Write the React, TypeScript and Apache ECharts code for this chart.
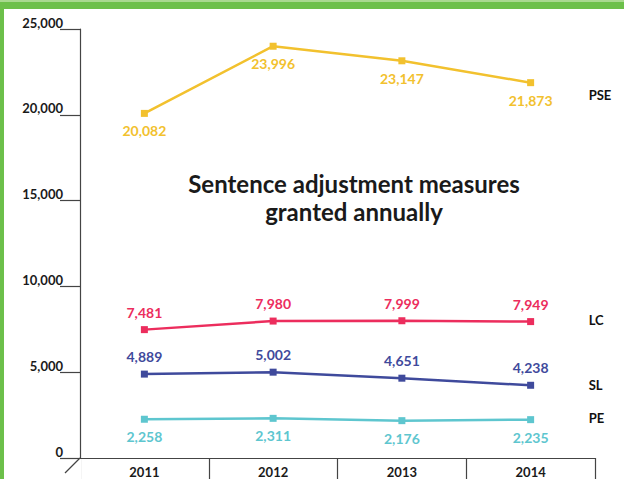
import React, { useEffect, useRef } from "react";
import * as echarts from "echarts";

const categories = ["2011", "2012", "2013", "2014"];
const pse = [20082, 23996, 23147, 21873];
const lc = [7481, 7980, 7999, 7949];
const sl = [4889, 5002, 4651, 4238];
const pe = [2258, 2311, 2176, 2235];
const yTicks = [0, 5000, 10000, 15000, 20000, 25000];
const titleLines = ["Sentence adjustment measures", "granted annually"];

const FONT = "Lato, 'Open Sans', sans-serif";

function fmt(v: number) {
  return v.toLocaleString("en-US");
}

export default function App() {
  const ref = useRef<HTMLDivElement>(null);
  useEffect(() => {
    if (!ref.current) return;
    const chart = echarts.init(ref.current, undefined, { renderer: "svg" });
    const mk = (
      name: string,
      data: number[],
      color: string,
      pos: "top" | "bottom",
      endOffset: [number, number]
    ) => ({
      name,
      type: "line",
      data,
      symbol: "rect",
      symbolSize: 7,
      lineStyle: { color, width: 2.5 },
      itemStyle: { color },
      label: {
        show: true,
        position: pos,
        distance: 7,
        color,
        fontFamily: FONT,
        fontWeight: "bold",
        fontSize: 14,
        formatter: (p: any) => fmt(p.value),
      },
      endLabel: {
        show: true,
        formatter: name,
        distance: 58,
        offset: endOffset,
        color: "#111",
        fontFamily: FONT,
        fontWeight: "bold",
        fontSize: 13,
      },
      z: 3,
    });
    chart.setOption({
      animation: false,
      backgroundColor: "#ffffff",
      title: {
        text: titleLines.join("\n"),
        left: 349,
        top: 164,
        textAlign: "center",
        textStyle: {
          fontFamily: FONT,
          fontSize: 24,
          fontWeight: "bold",
          lineHeight: 28,
          color: "#1a1a1a",
        },
      },
      grid: { left: 80, right: 29, top: 29, bottom: 21, containLabel: false },
      xAxis: {
        type: "category",
        data: categories,
        boundaryGap: true,
        axisLine: { show: true, lineStyle: { color: "#444", width: 1.2 } },
        axisTick: { show: true, length: 22, lineStyle: { color: "#444", width: 1.2 } },
        axisLabel: {
          margin: 7,
          color: "#1a1a1a",
          fontFamily: FONT,
          fontWeight: "bold",
          fontSize: 13,
        },
        splitLine: { show: false },
      },
      yAxis: {
        type: "value",
        min: 0,
        max: 25000,
        interval: 5000,
        axisLine: { show: true, lineStyle: { color: "#444", width: 1.2 } },
        axisTick: { show: true, length: 20, lineStyle: { color: "#444", width: 1.2 } },
        axisLabel: {
          margin: 17,
          verticalAlign: "bottom",
          color: "#1a1a1a",
          fontFamily: FONT,
          fontWeight: "bold",
          fontSize: 13,
          formatter: (v: number) => (yTicks.includes(v) ? fmt(v) : ""),
        },
        splitLine: { show: false },
      },
      graphic: [
        { type: "rect", shape: { x: 0, y: 0, width: 4, height: 479 }, style: { fill: "#6cc04a" }, z: 10 },
        { type: "rect", shape: { x: 0, y: 2, width: 624, height: 7 }, style: { fill: "#6cc04a" }, z: 10 },
        { type: "rect", shape: { x: 0, y: 0, width: 624, height: 2 }, style: { fill: "#a8d98f" }, z: 10 },
        { type: "line", shape: { x1: 80, y1: 459, x2: 80, y2: 479 }, style: { stroke: "#ffffff", lineWidth: 3 }, z: 10 },
        { type: "line", shape: { x1: 80, y1: 458, x2: 65, y2: 473 }, style: { stroke: "#444", lineWidth: 1.2 }, z: 11 },
      ],
      series: [
        mk("PSE", pse, "#f2c12e", "bottom", [0, 12]),
        mk("LC", lc, "#ec2d5d", "top", [0, -2]),
        mk("SL", sl, "#3f4a9c", "top", [0, 0]),
        mk("PE", pe, "#5ec6cf", "bottom", [0, -2]),
      ],
    });
    return () => chart.dispose();
  }, []);
  return (
    <div
      ref={ref}
      style={{ position: "fixed", left: 0, top: 0, width: 624, height: 479 }}
    />
  );
}
